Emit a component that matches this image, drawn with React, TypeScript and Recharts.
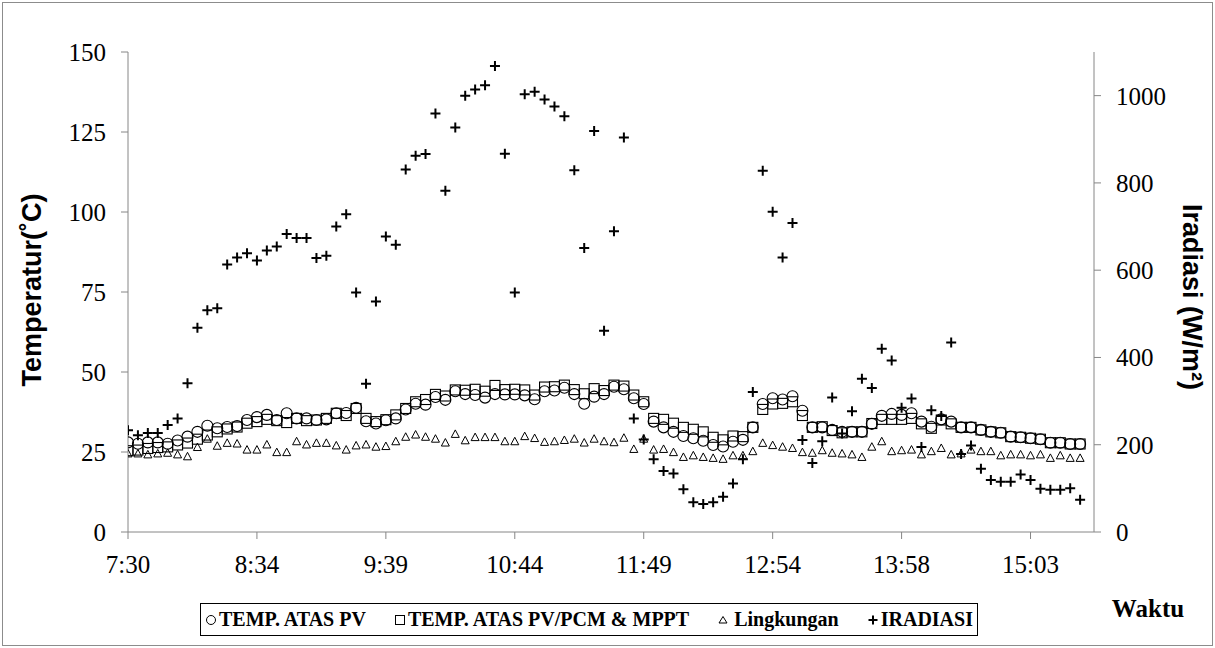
import { ComposedChart, Line, XAxis, YAxis } from 'recharts';

const tickLabels = ['7:30', '8:34', '9:39', '10:44', '11:49', '12:54', '13:58', '15:03'];
const xTicks = [0, 13, 26, 39, 52, 65, 78, 91];
const tempTicks = [0, 25, 50, 75, 100, 125, 150];
const irrTicks = [0, 200, 400, 600, 800, 1000];

// TEMP. ATAS PV (circles)
const pv = [
  28.0, 27.6, 28.0, 28.0, 27.6, 28.6, 29.8, 31.3, 33.2, 32.4, 32.8, 33.1, 35.0, 35.9, 36.6, 35.0,
  37.1, 35.5, 35.5, 35.0, 35.2, 37.1, 37.2, 38.8, 34.6, 33.9, 34.9, 35.5, 38.3, 40.1, 39.8, 42.2,
  41.3, 44.0, 43.1, 42.8, 42.0, 43.1, 43.0, 43.0, 42.7, 41.5, 44.0, 44.2, 45.1, 43.1, 40.1, 42.3,
  43.1, 45.4, 44.6, 41.8, 40.0, 34.5, 32.7, 31.3, 30.0, 29.3, 28.5, 27.2, 26.7, 28.2, 28.8, 32.7,
  40.0, 41.8, 41.4, 42.4, 37.9, 32.7, 32.7, 31.9, 31.3, 31.3, 31.3, 33.8, 36.3, 36.9, 36.6, 37.1,
  34.5, 32.9, 35.2, 34.5, 32.7, 32.7, 31.9, 31.3, 31.0, 29.8, 29.6, 29.3, 29.0, 27.9, 27.9, 27.5,
  27.5,
];

// TEMP. ATAS PV/PCM & MPPT (squares)
const pcm = [
  25.4, 25.6, 26.1, 26.4, 26.6, 27.2, 27.8, 29.0, 30.3, 31.3, 32.2, 32.8, 34.0, 34.5, 35.2, 34.8,
  34.2, 35.5, 34.8, 35.0, 35.5, 37.1, 36.4, 38.6, 35.5, 34.5, 35.1, 36.6, 38.6, 40.7, 41.4, 43.0,
  42.5, 44.4, 44.3, 44.6, 44.0, 45.8, 44.5, 44.6, 44.4, 42.8, 45.3, 45.4, 45.9, 44.5, 43.2, 44.8,
  44.2, 45.9, 45.6, 42.8, 40.7, 35.5, 35.2, 34.0, 32.7, 32.1, 31.3, 29.6, 28.8, 30.0, 29.8, 32.7,
  38.3, 40.0, 40.2, 40.7, 36.4, 32.7, 32.9, 31.7, 31.0, 31.3, 31.3, 33.9, 35.2, 35.2, 35.2, 35.5,
  33.8, 32.4, 35.0, 33.8, 32.7, 32.7, 31.9, 31.3, 31.0, 29.8, 29.6, 29.3, 29.0, 27.9, 27.9, 27.5,
  27.5,
];

// Lingkungan (triangles)
const amb = [
  24.4, 24.4, 24.1, 24.4, 24.6, 24.1, 23.5, 26.4, 29.0, 26.8, 27.7, 27.5, 25.6, 25.6, 27.2, 24.8,
  24.8, 28.2, 27.2, 27.7, 27.7, 26.9, 25.6, 26.9, 27.2, 26.5, 26.7, 28.2, 29.6, 30.3, 29.6, 29.0,
  27.8, 30.5, 28.5, 29.5, 29.5, 29.5, 28.2, 28.2, 29.8, 29.2, 28.0, 28.2, 28.6, 29.0, 27.8, 29.0,
  28.2, 27.9, 29.3, 25.8, 29.0, 25.6, 25.8, 24.8, 23.3, 23.8, 23.3, 23.0, 22.7, 23.8, 23.8, 25.1,
  27.7, 27.0, 26.5, 26.1, 24.8, 24.6, 25.4, 24.6, 24.4, 24.1, 23.3, 26.5, 28.2, 25.1, 25.4, 25.6,
  24.1, 25.1, 26.1, 24.1, 24.4, 25.6, 25.1, 25.1, 23.8, 24.1, 24.1, 23.8, 24.1, 23.0, 23.8, 23.0,
  23.0,
];

// IRADIASI (plus), W/m2
const irr = [
  233, 222, 227, 227, 245, 260, 341, 468, 508, 513, 613, 629, 639, 622, 645, 654,
  683, 674, 674, 628, 633, 700, 728, 549, 340, 528, 677, 658, 831, 862, 866, 959,
  782, 927, 1000, 1014, 1024, 1068, 867, 549, 1003, 1009, 991, 975, 953, 829, 651, 919,
  461, 689, 904, 260, 212, 167, 140, 134, 98, 68, 64, 68, 81, 111, 167, 321,
  828, 734, 629, 708, 211, 158, 208, 308, 226, 277, 351, 330, 420, 393, 285, 306,
  195, 279, 266, 434, 179, 198, 145, 119, 115, 115, 132, 119, 99, 97, 97, 100,
  74,
];

const data = pv.map((v, i) => ({ i, pv: v, pcm: pcm[i], amb: amb[i], irr: irr[i] }));

const axisGray = '#868686';
const serif = '"Liberation Serif", "Times New Roman", serif';
const sans = '"Liberation Sans", Arial, sans-serif';

function marker(kind: 'circle' | 'square' | 'triangle' | 'plus') {
  return (p: any) => {
    const { cx, cy, index } = p;
    const key = `${kind}-${index}`;
    if (cx == null || cy == null) return <g key={key} />;
    if (kind === 'circle') {
      return <circle key={key} cx={cx} cy={cy} r={5.5} fill="none" stroke="#000" strokeWidth={1.1} />;
    }
    if (kind === 'square') {
      return <rect key={key} x={cx - 5} y={cy - 5} width={10} height={10} fill="none" stroke="#000" strokeWidth={1.1} />;
    }
    if (kind === 'triangle') {
      return (
        <polygon
          key={key}
          points={`${cx},${cy - 4.5} ${cx - 4},${cy + 3} ${cx + 4},${cy + 3}`}
          fill="none"
          stroke="#000"
          strokeWidth={1}
        />
      );
    }
    return (
      <path key={key} d={`M${cx - 5},${cy}H${cx + 5}M${cx},${cy - 5}V${cy + 5}`} stroke="#000" strokeWidth={2} />
    );
  };
}

const legendItems = [
  { label: 'TEMP. ATAS PV', kind: 'circle' },
  { label: 'TEMP. ATAS PV/PCM & MPPT', kind: 'square' },
  { label: 'Lingkungan', kind: 'triangle' },
  { label: 'IRADIASI', kind: 'plus' },
];

function LegendIcon({ kind }: { kind: string }) {
  return (
    <svg width={12} height={12} style={{ marginRight: kind === 'triangle' ? 5 : 2 }}>
      {kind === 'circle' && <circle cx={6} cy={6} r={4.5} fill="none" stroke="#000" strokeWidth={1} />}
      {kind === 'square' && <rect x={1.5} y={1.5} width={9} height={9} fill="none" stroke="#000" strokeWidth={1} />}
      {kind === 'triangle' && <polygon points="6,2.5 2,9 10,9" fill="none" stroke="#000" strokeWidth={1} />}
      {kind === 'plus' && <path d="M1.5,6H10.5M6,1.5V10.5" stroke="#000" strokeWidth={2} />}
    </svg>
  );
}

export default function App() {
  return (
    <div style={{ position: 'absolute', left: 0, top: 0, width: 1215, height: 648, background: '#fff' }}>
      <div
        style={{
          position: 'absolute',
          left: 2,
          top: 2,
          width: 1209,
          height: 642,
          border: '1px solid #8c8c8c',
          pointerEvents: 'none',
        }}
      />
      <ComposedChart width={1215} height={648} data={data} margin={{ top: 52, right: 61, bottom: 76, left: 68 }}>
        <XAxis
          type="number"
          dataKey="i"
          domain={[0, 97.4]}
          ticks={xTicks}
          tickFormatter={(v: number) => tickLabels[Math.round(v / 13)]}
          stroke={axisGray}
          tick={{ fill: '#000', fontSize: 25, fontFamily: serif }}
          tickSize={7}
          tickMargin={16}
          height={40}
          allowDataOverflow
        />
        <YAxis
          yAxisId="left"
          domain={[0, 150]}
          ticks={tempTicks}
          stroke={axisGray}
          tick={{ fill: '#000', fontSize: 25, fontFamily: serif }}
          tickSize={7}
          tickMargin={15}
          width={60}
        />
        <YAxis
          yAxisId="right"
          orientation="right"
          domain={[0, 1100]}
          ticks={irrTicks}
          stroke={axisGray}
          tick={{ fill: '#000', fontSize: 25, fontFamily: serif }}
          tickSize={7}
          tickMargin={15}
          width={60}
        />
        <Line yAxisId="left" dataKey="pv" stroke="none" dot={marker('circle')} activeDot={false} isAnimationActive={false} />
        <Line yAxisId="left" dataKey="pcm" stroke="none" dot={marker('square')} activeDot={false} isAnimationActive={false} />
        <Line yAxisId="left" dataKey="amb" stroke="none" dot={marker('triangle')} activeDot={false} isAnimationActive={false} />
        <Line yAxisId="right" dataKey="irr" stroke="none" dot={marker('plus')} activeDot={false} isAnimationActive={false} />
      </ComposedChart>

      <svg width={1215} height={648} style={{ position: 'absolute', left: 0, top: 0, pointerEvents: 'none' }}>
        <text
          transform="translate(41,290) rotate(-90)"
          textAnchor="middle"
          fontFamily={sans}
          fontWeight="bold"
          fontSize={27}
        >
          Temperatur(˚C)
        </text>
        <text
          transform="translate(1183,297) rotate(90)"
          textAnchor="middle"
          fontFamily={sans}
          fontWeight="bold"
          fontSize={27}
        >
          Iradiasi (W/m²)
        </text>
        <text x={1148} y={617} textAnchor="middle" fontFamily={serif} fontWeight="bold" fontSize={25}>
          Waktu
        </text>
      </svg>

      <div
        style={{
          position: 'absolute',
          left: 200,
          top: 603,
          width: 778,
          height: 33,
          boxSizing: 'border-box',
          border: '1px solid #000',
          display: 'flex',
          alignItems: 'center',
          justifyContent: 'space-between',
          padding: '0 4px',
          fontFamily: serif,
          fontWeight: 'bold',
          fontSize: 20,
          whiteSpace: 'nowrap',
        }}
      >
        {legendItems.map((it) => (
          <span key={it.label} style={{ display: 'flex', alignItems: 'center' }}>
            <LegendIcon kind={it.kind} />
            {it.label}
          </span>
        ))}
      </div>
    </div>
  );
}
